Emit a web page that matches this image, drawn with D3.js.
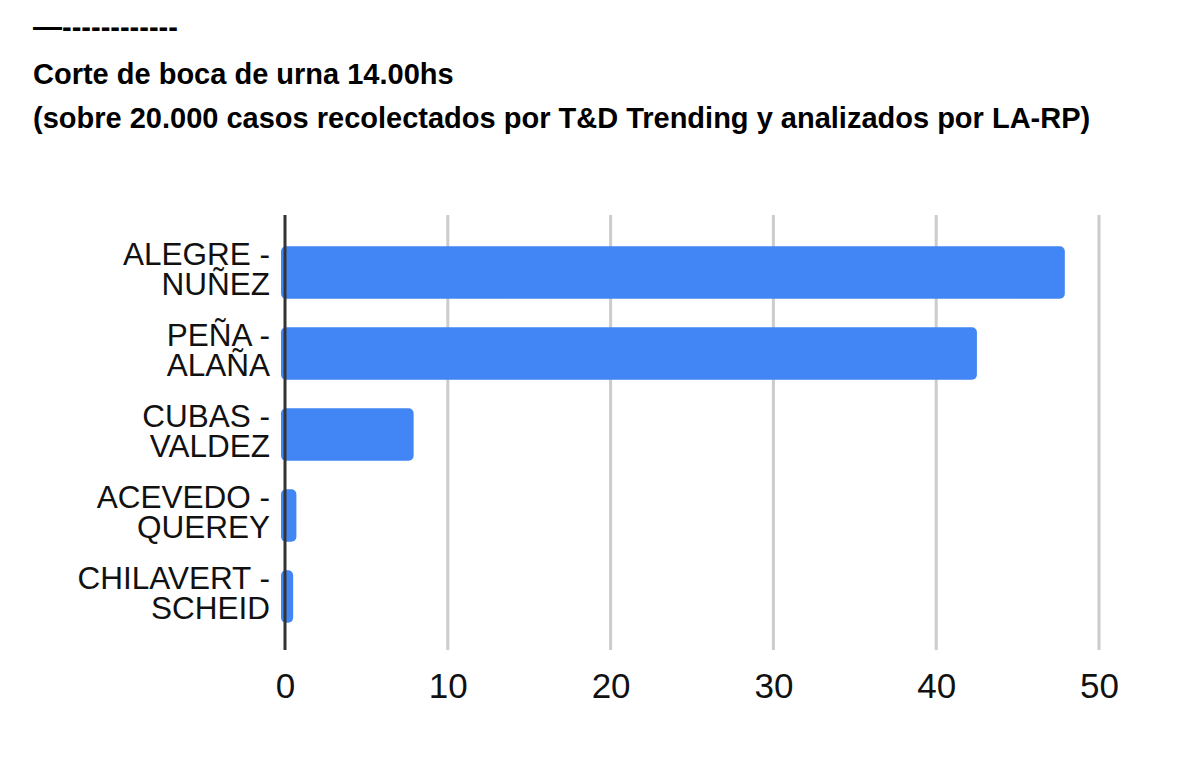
<!DOCTYPE html>
<html lang="es">
<head>
<meta charset="UTF-8"/>
<title>Corte de boca de urna</title>
<script src="https://d3js.org/d3.v7.min.js"></script>
<style>
  body { margin: 0; background: #fff; font-family: "Liberation Sans", Arial, sans-serif; }
</style>
</head>
<body>
<script>
    // data
    var categories = [["ALEGRE -", "NUÑEZ"], ["PEÑA -", "ALAÑA"], ["CUBAS -", "VALDEZ"], ["ACEVEDO -", "QUEREY"], ["CHILAVERT -", "SCHEID"]];
    var values = [47.9, 42.5, 7.9, 0.7, 0.5];
    var xTicks = [0, 10, 20, 30, 40, 50];
    var titleLines = ["—------------", "Corte de boca de urna 14.00hs", "(sobre 20.000 casos recolectados por T&D Trending y analizados por LA-RP)"];

    var w = 1200, h = 775;

    var svg = d3.select("body").append("svg")
        .attr("width", w)
        .attr("height", h);

    // title block
    svg.selectAll("text.title")
        .data(titleLines)
        .enter()
        .append("text")
        .attr("class", "title")
        .attr("x", 33)
        .attr("y", function (d, i) { return [37, 84, 128][i]; })
        .attr("font-size", "29px")
        .attr("font-weight", "bold")
        .attr("fill", "#000")
        .text(function (d) { return d; });

    //scales
    var keys = categories.map(function (d) { return d.join(" "); });

    var xScale = d3.scaleLinear()
        .domain([0, 50])
        .range([285, 1099]);

    var yScale = d3.scaleBand()
        .domain(keys)
        .range([232, 637])
        .paddingInner(0.35)
        .paddingOuter(0.175);

    // gridlines
    svg.append("g")
        .selectAll("line")
        .data(xTicks.slice(1))
        .enter()
        .append("line")
        .attr("x1", function (d) { return xScale(d); })
        .attr("x2", function (d) { return xScale(d); })
        .attr("y1", 215)
        .attr("y2", 650)
        .attr("stroke", "#cccccc")
        .attr("stroke-width", 3);

    // bars
    svg.append("g")
        .selectAll("rect")
        .data(values)
        .enter()
        .append("rect")
        .attr("x", xScale(0) - 4)
        .attr("y", function (d, i) { return yScale(keys[i]); })
        .attr("width", function (d) { return xScale(d) - xScale(0) + 4; })
        .attr("height", yScale.bandwidth())
        .attr("rx", 5)
        .attr("fill", "#4285f4");

    // x axis (labels only)
    var xAxis = d3.axisBottom(xScale)
        .tickValues(xTicks)
        .tickSize(0)
        .tickPadding(0)
        .tickFormat(d3.format("d"));

    var gx = svg.append("g")
        .attr("transform", "translate(0,698)")
        .call(xAxis);
    gx.select(".domain").remove();
    gx.selectAll("text")
        .attr("dy", 0)
        .attr("font-family", "'Liberation Sans', Arial, sans-serif")
        .attr("font-size", "35px")
        .attr("fill", "#111");

    // baseline
    svg.append("line")
        .attr("x1", xScale(0))
        .attr("x2", xScale(0))
        .attr("y1", 215)
        .attr("y2", 650)
        .attr("stroke", "#333")
        .attr("stroke-width", 3);

    // category labels
    var labels = svg.append("g")
        .selectAll("text")
        .data(categories)
        .enter()
        .append("text")
        .attr("text-anchor", "end")
        .attr("font-size", "31.5px")
        .attr("fill", "#111")
        .attr("y", function (d, i) { return yScale(keys[i]) + yScale.bandwidth() / 2 - 8; });

    labels.selectAll("tspan")
        .data(function (d) { return d; })
        .enter()
        .append("tspan")
        .attr("x", 270)
        .attr("dy", function (d, i) { return i === 0 ? 0 : 30; })
        .text(function (d) { return d; });
</script>
</body>
</html>
